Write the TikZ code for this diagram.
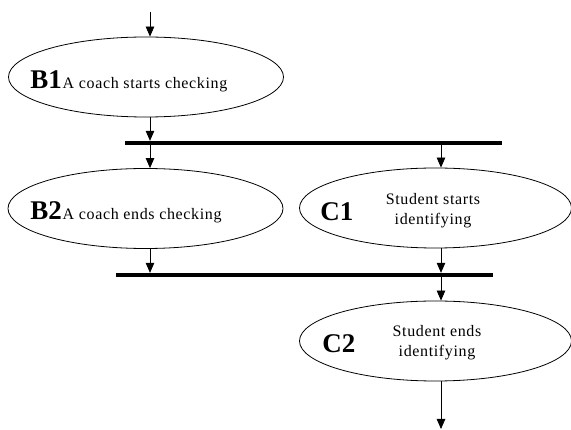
\documentclass[tikz,border=0pt]{standalone}
\usepackage{fontspec}
\setmainfont{Liberation Serif}
\newfontfamily\spacedfont{Liberation Serif}[LetterSpace=4]
\usetikzlibrary{arrows.meta,shapes.geometric}

\begin{document}
\begin{tikzpicture}[x=1pt,y=-1pt,line width=0.8pt,
    state/.style = {draw, ellipse, minimum width=275pt, minimum height=80pt, inner sep=0pt},
    bar/.style = {fill, inner sep=0pt, minimum height=3.5pt},
    tag/.style = {inner sep=0pt, font=\fontsize{27}{27}\selectfont\bfseries},
    txt/.style = {inner sep=0pt, align=center, font=\fontsize{16}{20}\selectfont\spacedfont},
    flow/.style = {-{Triangle[width=8.5pt,length=10pt]}}]
        \useasboundingbox (0,0) rectangle (571,430);
        % columns of the two threads
        \coordinate (colb) at (150,0);
        \coordinate (colc) at (441,0);
        \coordinate (start) at (150,12);
        \coordinate (stop) at (441,429);

        \node[state](b1) at (146,77){};
        \node[bar, minimum width=377pt](sync1) at (313.5,143){};
        \node[state](b2) at (145.5,208.5){};
        \node[state, minimum width=272pt](c1) at (435.5,208){};
        \node[bar, minimum width=377pt](sync2) at (304.5,275){};
        \node[state, minimum width=272pt](c2) at (435.5,341){};

        \node[tag, anchor=base west](b1tag) at (30,89){B1};
        \node[txt, anchor=base west](b1txt) at (b1tag.base east){A coach starts checking};
        \node[tag, anchor=base west](b2tag) at (30,220){B2};
        \node[txt, anchor=base west](b2txt) at (b2tag.base east){A coach ends checking};
        \node[tag, anchor=base west](c1tag) at (320,221){C1};
        \node[txt](c1txt) at (433,211){Student starts\\identifying};
        \node[tag, anchor=base west](c2tag) at (322,353){C2};
        \node[txt](c2txt) at (437,343){Student ends\\identifying};

        \path[flow]
        (start) edge (b1.north -| colb)
        (b1.south -| colb) edge (sync1.north -| colb)
        (sync1.south -| colb) edge (b2.north -| colb)
        (sync1.south -| colc) edge (c1.north -| colc)
        (b2.south -| colb) edge (sync2.north -| colb)
        (c1.south -| colc) edge (sync2.north -| colc)
        (sync2.south -| colc) edge (c2.north -| colc)
        (c2.south -| colc) edge (stop)
        ;
\end{tikzpicture}
\end{document}
